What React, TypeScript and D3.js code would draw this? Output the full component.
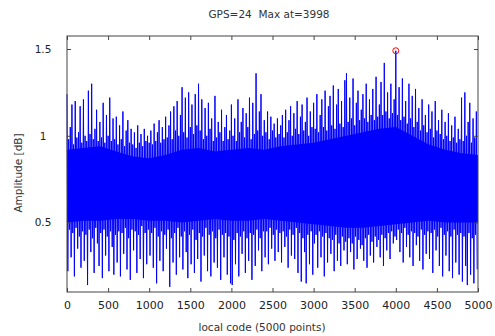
import * as d3 from 'd3';
import { useRef, useEffect } from 'react';

// upper and lower swing of the correlation, one pair per 20 samples
const highs = [
  1.24, 0.98, 1.05, 1.18, 0.95, 1.20, 0.99, 1.02, 1.17, 0.96,
  1.21, 1.00, 0.97, 1.26, 1.01, 1.30, 0.98, 1.04, 1.15, 0.97,
  1.08, 0.99, 1.19, 0.96, 1.12, 1.00, 1.22, 0.97, 1.10, 0.98,
  1.11, 0.95, 1.06, 0.98, 1.14, 0.94, 1.03, 1.09, 0.96, 1.04,
  0.95, 1.02, 0.93, 1.06, 0.96, 1.01, 0.94, 1.04, 0.97, 1.00,
  0.96, 1.03, 0.95, 1.07, 0.97, 1.02, 1.09, 0.96, 1.05, 0.98,
  1.11, 0.99, 1.06, 1.14, 0.98, 1.17, 1.03, 1.20, 1.00, 1.12,
  1.28, 1.02, 1.22, 0.99, 1.25, 1.05, 1.18, 1.01, 1.24, 1.06,
  1.30, 1.03, 1.21, 0.98, 1.16, 1.00, 1.19, 1.04, 1.10, 0.97,
  1.23, 0.99, 1.08, 1.02, 1.15, 0.97, 1.05, 1.12, 0.98, 1.03,
  1.18, 1.00, 1.10, 0.97, 1.21, 1.02, 1.08, 1.16, 0.99, 1.13,
  1.05, 1.22, 0.98, 1.19, 1.01, 1.36, 1.03, 1.14, 1.24, 1.00,
  1.09, 1.02, 1.14, 0.98, 1.11, 1.03, 1.07, 0.99, 1.10, 1.01,
  1.06, 1.12, 0.99, 1.15, 1.02, 1.09, 1.17, 1.00, 1.13, 1.04,
  1.20, 1.01, 1.11, 1.18, 1.03, 1.08, 1.22, 1.00, 1.14, 1.05,
  1.19, 1.04, 1.24, 1.02, 1.12, 1.21, 1.05, 1.26, 1.03, 1.17,
  1.23, 1.06, 1.29, 1.04, 1.18, 1.27, 1.07, 1.20, 1.05, 1.32,
  1.36, 1.08, 1.22, 1.10, 1.33, 1.06, 1.19, 1.26, 1.09, 1.15,
  1.24, 1.10, 1.30, 1.08, 1.21, 1.12, 1.27, 1.09, 1.34, 1.11,
  1.18, 1.31, 1.12, 1.42, 1.14, 1.25, 1.10, 1.30, 1.13, 1.21,
  1.49, 1.12, 1.28, 1.09, 1.33, 1.11, 1.20, 1.07, 1.30, 1.10,
  1.23, 1.05, 1.27, 1.08, 1.16, 1.03, 1.21, 1.06, 1.12, 1.02,
  1.18, 1.04, 1.14, 0.99, 1.20, 1.03, 1.09, 1.01, 1.15, 0.98,
  1.08, 1.00, 1.13, 0.97, 1.06, 0.99, 1.11, 0.96, 1.04, 0.98,
  1.22, 0.97, 1.25, 1.00, 1.08, 1.19, 0.96, 1.10, 0.99, 1.14,
];

const lows = [
  0.22, 0.46, 0.30, 0.44, 0.19, 0.47, 0.35, 0.42, 0.24, 0.45,
  0.28, 0.43, 0.14, 0.46, 0.33, 0.41, 0.21, 0.47, 0.38, 0.25,
  0.44, 0.18, 0.46, 0.31, 0.42, 0.22, 0.45, 0.36, 0.20, 0.43,
  0.27, 0.45, 0.19, 0.44, 0.32, 0.47, 0.23, 0.41, 0.17, 0.46,
  0.34, 0.45, 0.21, 0.43, 0.29, 0.48, 0.18, 0.44, 0.26, 0.46,
  0.31, 0.44, 0.24, 0.47, 0.15, 0.42, 0.28, 0.45, 0.22, 0.43,
  0.35, 0.46, 0.13, 0.41, 0.27, 0.44, 0.20, 0.47, 0.30, 0.42,
  0.23, 0.45, 0.33, 0.18, 0.43, 0.26, 0.46, 0.21, 0.40, 0.29,
  0.44, 0.16, 0.42, 0.31, 0.47, 0.22, 0.43, 0.19, 0.45, 0.27,
  0.41, 0.24, 0.46, 0.17, 0.43, 0.30, 0.44, 0.20, 0.42, 0.15,
  0.14, 0.40, 0.26, 0.44, 0.19, 0.42, 0.32, 0.45, 0.21, 0.41,
  0.28, 0.44, 0.17, 0.43, 0.25, 0.46, 0.34, 0.41, 0.22, 0.45,
  0.30, 0.45, 0.26, 0.47, 0.35, 0.43, 0.28, 0.46, 0.33, 0.44,
  0.27, 0.45, 0.36, 0.42, 0.24, 0.46, 0.31, 0.43, 0.29, 0.47,
  0.21, 0.44, 0.16, 0.41, 0.33, 0.15, 0.43, 0.26, 0.45, 0.20,
  0.38, 0.43, 0.24, 0.45, 0.30, 0.42, 0.19, 0.44, 0.27, 0.41,
  0.32, 0.40, 0.22, 0.43, 0.28, 0.38, 0.25, 0.42, 0.34, 0.39,
  0.26, 0.41, 0.33, 0.38, 0.23, 0.42, 0.29, 0.40, 0.35, 0.37,
  0.28, 0.41, 0.24, 0.43, 0.31, 0.39, 0.27, 0.42, 0.36, 0.40,
  0.30, 0.43, 0.25, 0.41, 0.34, 0.44, 0.29, 0.45, 0.38, 0.42,
  0.40, 0.46, 0.33, 0.44, 0.27, 0.47, 0.36, 0.43, 0.30, 0.45,
  0.25, 0.44, 0.37, 0.42, 0.28, 0.46, 0.23, 0.43, 0.32, 0.45,
  0.29, 0.44, 0.21, 0.46, 0.34, 0.42, 0.25, 0.47, 0.19, 0.43,
  0.31, 0.45, 0.22, 0.42, 0.18, 0.46, 0.27, 0.43, 0.20, 0.44,
  0.16, 0.42, 0.25, 0.14, 0.44, 0.20, 0.41, 0.15, 0.43, 0.23,
];

// dense part of the trace, read every 200 samples (0..5000)
const coreTop = [
  0.92, 0.93, 0.94, 0.91, 0.88, 0.87, 0.89, 0.92, 0.93, 0.91, 0.92, 0.93, 0.92,
  0.94, 0.95, 0.96, 0.98, 1.00, 1.02, 1.04, 1.05, 1.00, 0.95, 0.92, 0.90, 0.89,
];
const coreBottom = [
  0.50, 0.51, 0.51, 0.52, 0.52, 0.51, 0.51, 0.50, 0.51, 0.52, 0.51, 0.51, 0.52,
  0.51, 0.50, 0.49, 0.48, 0.47, 0.47, 0.48, 0.49, 0.50, 0.51, 0.50, 0.50, 0.50,
];

const xTicks = [0, 500, 1000, 1500, 2000, 2500, 3000, 3500, 4000, 4500, 5000];
const yTicks = [0.5, 1, 1.5];
const title = 'GPS=24  Max at=3998';
const xLabel = 'local code (5000 points)';
const yLabel = 'Amplitude [dB]';

const width = 495;
const height = 336;
const font = '"DejaVu Sans", sans-serif';

const App = () => {
  const ref = useRef<SVGSVGElement>(null);

  useEffect(() => {
    if (!ref.current) return;
    const svg = d3.select(ref.current);
    svg.selectAll('*').remove();

    const margin = { top: 36, right: 17, bottom: 44, left: 67 };
    const x = d3.scaleLinear().domain([0, 5000]).range([margin.left, width - margin.right]);
    const y = d3.scaleLinear().domain([0.1, 1.575]).range([height - margin.bottom, margin.top]);

    // dense core band
    const area = d3.area<number>()
      .x((_, i) => x(i * 200))
      .y0((_, i) => y(coreBottom[i]))
      .y1(d => y(d));
    svg.append('path')
      .datum(coreTop)
      .attr('d', area)
      .attr('fill', '#0000ff');

    // interleave the swings into one sample series
    const points = highs.flatMap((h, i) => [
      { s: i * 20, v: h },
      { s: i * 20 + 10, v: lows[i] },
    ]);

    const line = d3.line<{ s: number; v: number }>()
      .x(d => x(d.s))
      .y(d => y(d.v));

    svg.append('path')
      .datum(points)
      .attr('d', line)
      .attr('fill', 'none')
      .attr('stroke', '#0000ff')
      .attr('stroke-width', 1);

    // peak marker
    const peak = points[d3.maxIndex(points, d => d.v)];
    svg.append('circle')
      .attr('cx', x(peak.s))
      .attr('cy', y(peak.v))
      .attr('r', 3)
      .attr('fill', 'none')
      .attr('stroke', '#ff0000')
      .attr('stroke-width', 1);

    // axes, ticks pointing inward on all four sides
    const bottom = svg.append('g')
      .attr('transform', `translate(0,${height - margin.bottom})`)
      .call(d3.axisBottom(x).tickValues(xTicks).tickSizeInner(-4).tickSizeOuter(0).tickPadding(9).tickFormat(d3.format('d')));
    bottom.selectAll('text').attr('font-size', 11);

    svg.append('g')
      .attr('transform', `translate(0,${margin.top})`)
      .call(d3.axisTop(x).tickValues(xTicks).tickSizeInner(-4).tickSizeOuter(0).tickFormat(() => ''));

    const left = svg.append('g')
      .attr('transform', `translate(${margin.left},0)`)
      .call(d3.axisLeft(y).tickValues(yTicks).tickSizeInner(-4).tickSizeOuter(0).tickFormat(d3.format('')));
    left.selectAll('text')
      .attr('font-size', 10.5)
      .attr('text-anchor', 'middle')
      .attr('x', -24);

    svg.append('g')
      .attr('transform', `translate(${width - margin.right},0)`)
      .call(d3.axisRight(y).tickValues(yTicks).tickSizeInner(-4).tickSizeOuter(0).tickFormat(() => ''));

    svg.selectAll('.domain').remove();
    svg.selectAll('.tick line').attr('stroke', '#444');
    svg.selectAll('.tick text').attr('fill', '#222').attr('font-family', font);

    svg.append('rect')
      .attr('x', margin.left)
      .attr('y', margin.top)
      .attr('width', width - margin.left - margin.right)
      .attr('height', height - margin.top - margin.bottom)
      .attr('fill', 'none')
      .attr('stroke', '#444');

    svg.append('text')
      .attr('x', 269)
      .attr('y', 18)
      .attr('text-anchor', 'middle')
      .attr('font-family', font)
      .attr('font-size', 10.5)
      .attr('fill', '#333')
      .style('white-space', 'pre')
      .text(title);

    svg.append('text')
      .attr('x', 262)
      .attr('y', 331)
      .attr('text-anchor', 'middle')
      .attr('font-family', font)
      .attr('font-size', 10.5)
      .attr('fill', '#333')
      .text(xLabel);

    svg.append('text')
      .attr('transform', `translate(22,173) rotate(-90)`)
      .attr('text-anchor', 'middle')
      .attr('font-family', font)
      .attr('font-size', 10.5)
      .attr('fill', '#333')
      .text(yLabel);
  }, []);

  return (
    <svg ref={ref} width={width} height={height}
      style={{ position: 'absolute', left: 0, top: 0, background: '#fff' }} />
  );
};

export default App;
